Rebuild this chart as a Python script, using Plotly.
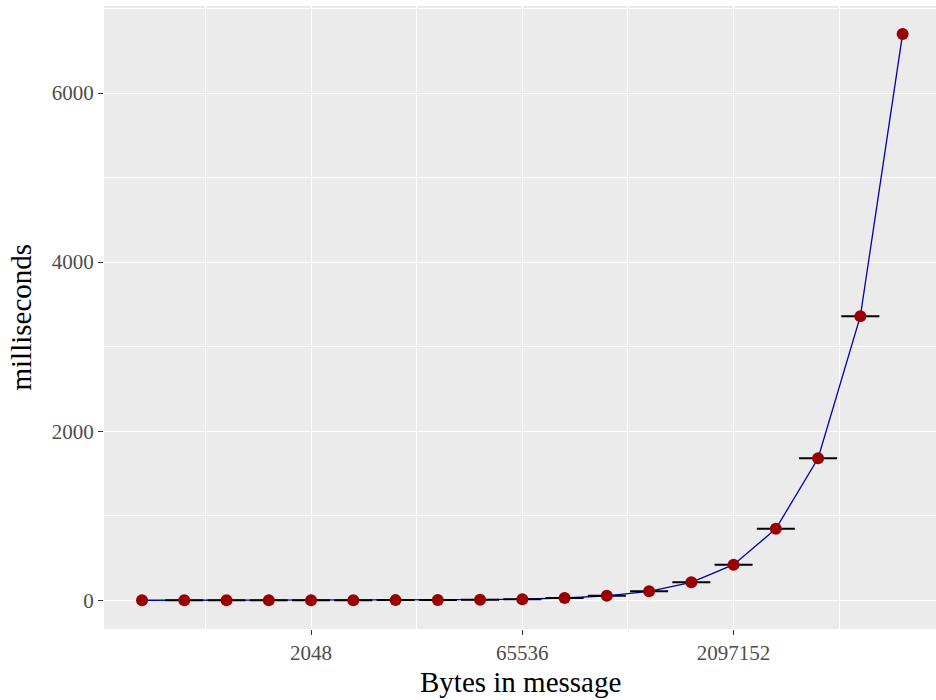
import plotly.graph_objects as go
import math

# Message sizes in bytes (powers of two, 2^7 .. 2^25)
bytes_in_message = [128, 256, 512, 1024, 2048, 4096, 8192, 16384, 32768, 65536,
                    131072, 262144, 524288, 1048576, 2097152, 4194304, 8388608,
                    16777216, 33554432]
# Mean time in milliseconds
milliseconds = [0.03, 0.05, 0.1, 0.2, 0.4, 0.8, 1.6, 3.3, 6.6, 13.2,
                27, 53, 106, 212, 421, 845, 1680, 3360, 6700]
# Error (spread) in milliseconds — very small, only the crossbars are visible
err_ms = [0, 0, 0, 0, 0, 0, 0, 0, 0, 0, 0, 0, 0, 0, 0, 0, 0, 0, 0]
has_errbar = [False] + [True] * 17 + [False]

x_tick_vals = [2048, 65536, 2097152]
x_tick_text = ["2048", "65536", "2097152"]
x_minor_vals = [2 ** 8.5, 2 ** 13.5, 2 ** 18.5, 2 ** 23.5]
y_tick_vals = [0, 2000, 4000, 6000]
y_minor_vals = [1000, 3000, 5000, 7000]

FONT = "Liberation Serif"

fig = go.Figure()

# connecting line
fig.add_trace(go.Scatter(
    x=bytes_in_message, y=milliseconds, mode="lines",
    line=dict(color="#0000A8", width=1.3), hoverinfo="skip", showlegend=False))

# error bars (horizontal crossbars)
eb_x = [b for b, h in zip(bytes_in_message, has_errbar) if h]
eb_y = [m for m, h in zip(milliseconds, has_errbar) if h]
eb_e = [e for e, h in zip(err_ms, has_errbar) if h]
fig.add_trace(go.Scatter(
    x=eb_x, y=eb_y, mode="markers",
    marker=dict(size=1, color="rgba(0,0,0,0)"),
    error_y=dict(type="data", array=eb_e, visible=True, color="black",
                 thickness=2, width=19),
    hoverinfo="skip", showlegend=False))

# points
fig.add_trace(go.Scatter(
    x=bytes_in_message, y=milliseconds, mode="markers",
    marker=dict(size=12, color="#9B0000", line=dict(width=0)),
    showlegend=False))

log2 = math.log10(2)
fig.update_layout(
    width=936, height=700,
    margin=dict(l=104, r=0, t=6, b=71, autoexpand=False),
    paper_bgcolor="white", plot_bgcolor="#EBEBEB",
    font=dict(family=FONT, color="black"),
    xaxis=dict(
        type="log", range=[6.1 * log2, 25.79 * log2], automargin=False,
        tickvals=x_tick_vals, ticktext=x_tick_text,
        ticks="outside", ticklen=5, tickwidth=1.1, tickcolor="#333333",
        tickfont=dict(family=FONT, size=21, color="#4D4D4D"),
        showgrid=True, gridcolor="white", gridwidth=1.1,
        minor=dict(tickvals=x_minor_vals, showgrid=True, gridcolor="white",
                   gridwidth=0.55, ticks=""),
        zeroline=False, showline=False,
    ),
    yaxis=dict(
        range=[-340, 7030], automargin=False,
        tickvals=y_tick_vals, ticktext=[str(v) for v in y_tick_vals],
        ticks="outside", ticklen=5, tickwidth=1.1, tickcolor="#333333",
        tickfont=dict(family=FONT, size=21, color="#4D4D4D"),
        showgrid=True, gridcolor="white", gridwidth=1.1,
        minor=dict(tickvals=y_minor_vals, showgrid=True, gridcolor="white",
                   gridwidth=0.55, ticks=""),
        zeroline=False, showline=False,
    ),
    annotations=[
        dict(text="Bytes in message", xref="paper", yref="paper", x=0.5, y=0,
             xanchor="center", yanchor="middle", yshift=-53, showarrow=False,
             font=dict(family=FONT, size=29, color="black")),
        dict(text="milliseconds", xref="paper", yref="paper", x=0, y=0.5,
             xanchor="center", yanchor="middle", xshift=-84, textangle=-90,
             showarrow=False, font=dict(family=FONT, size=29, color="black")),
    ],
)

fig.write_html("out.html", config={"displayModeBar": False},
               post_script="document.body.style.margin='0';document.body.style.padding='0';")
